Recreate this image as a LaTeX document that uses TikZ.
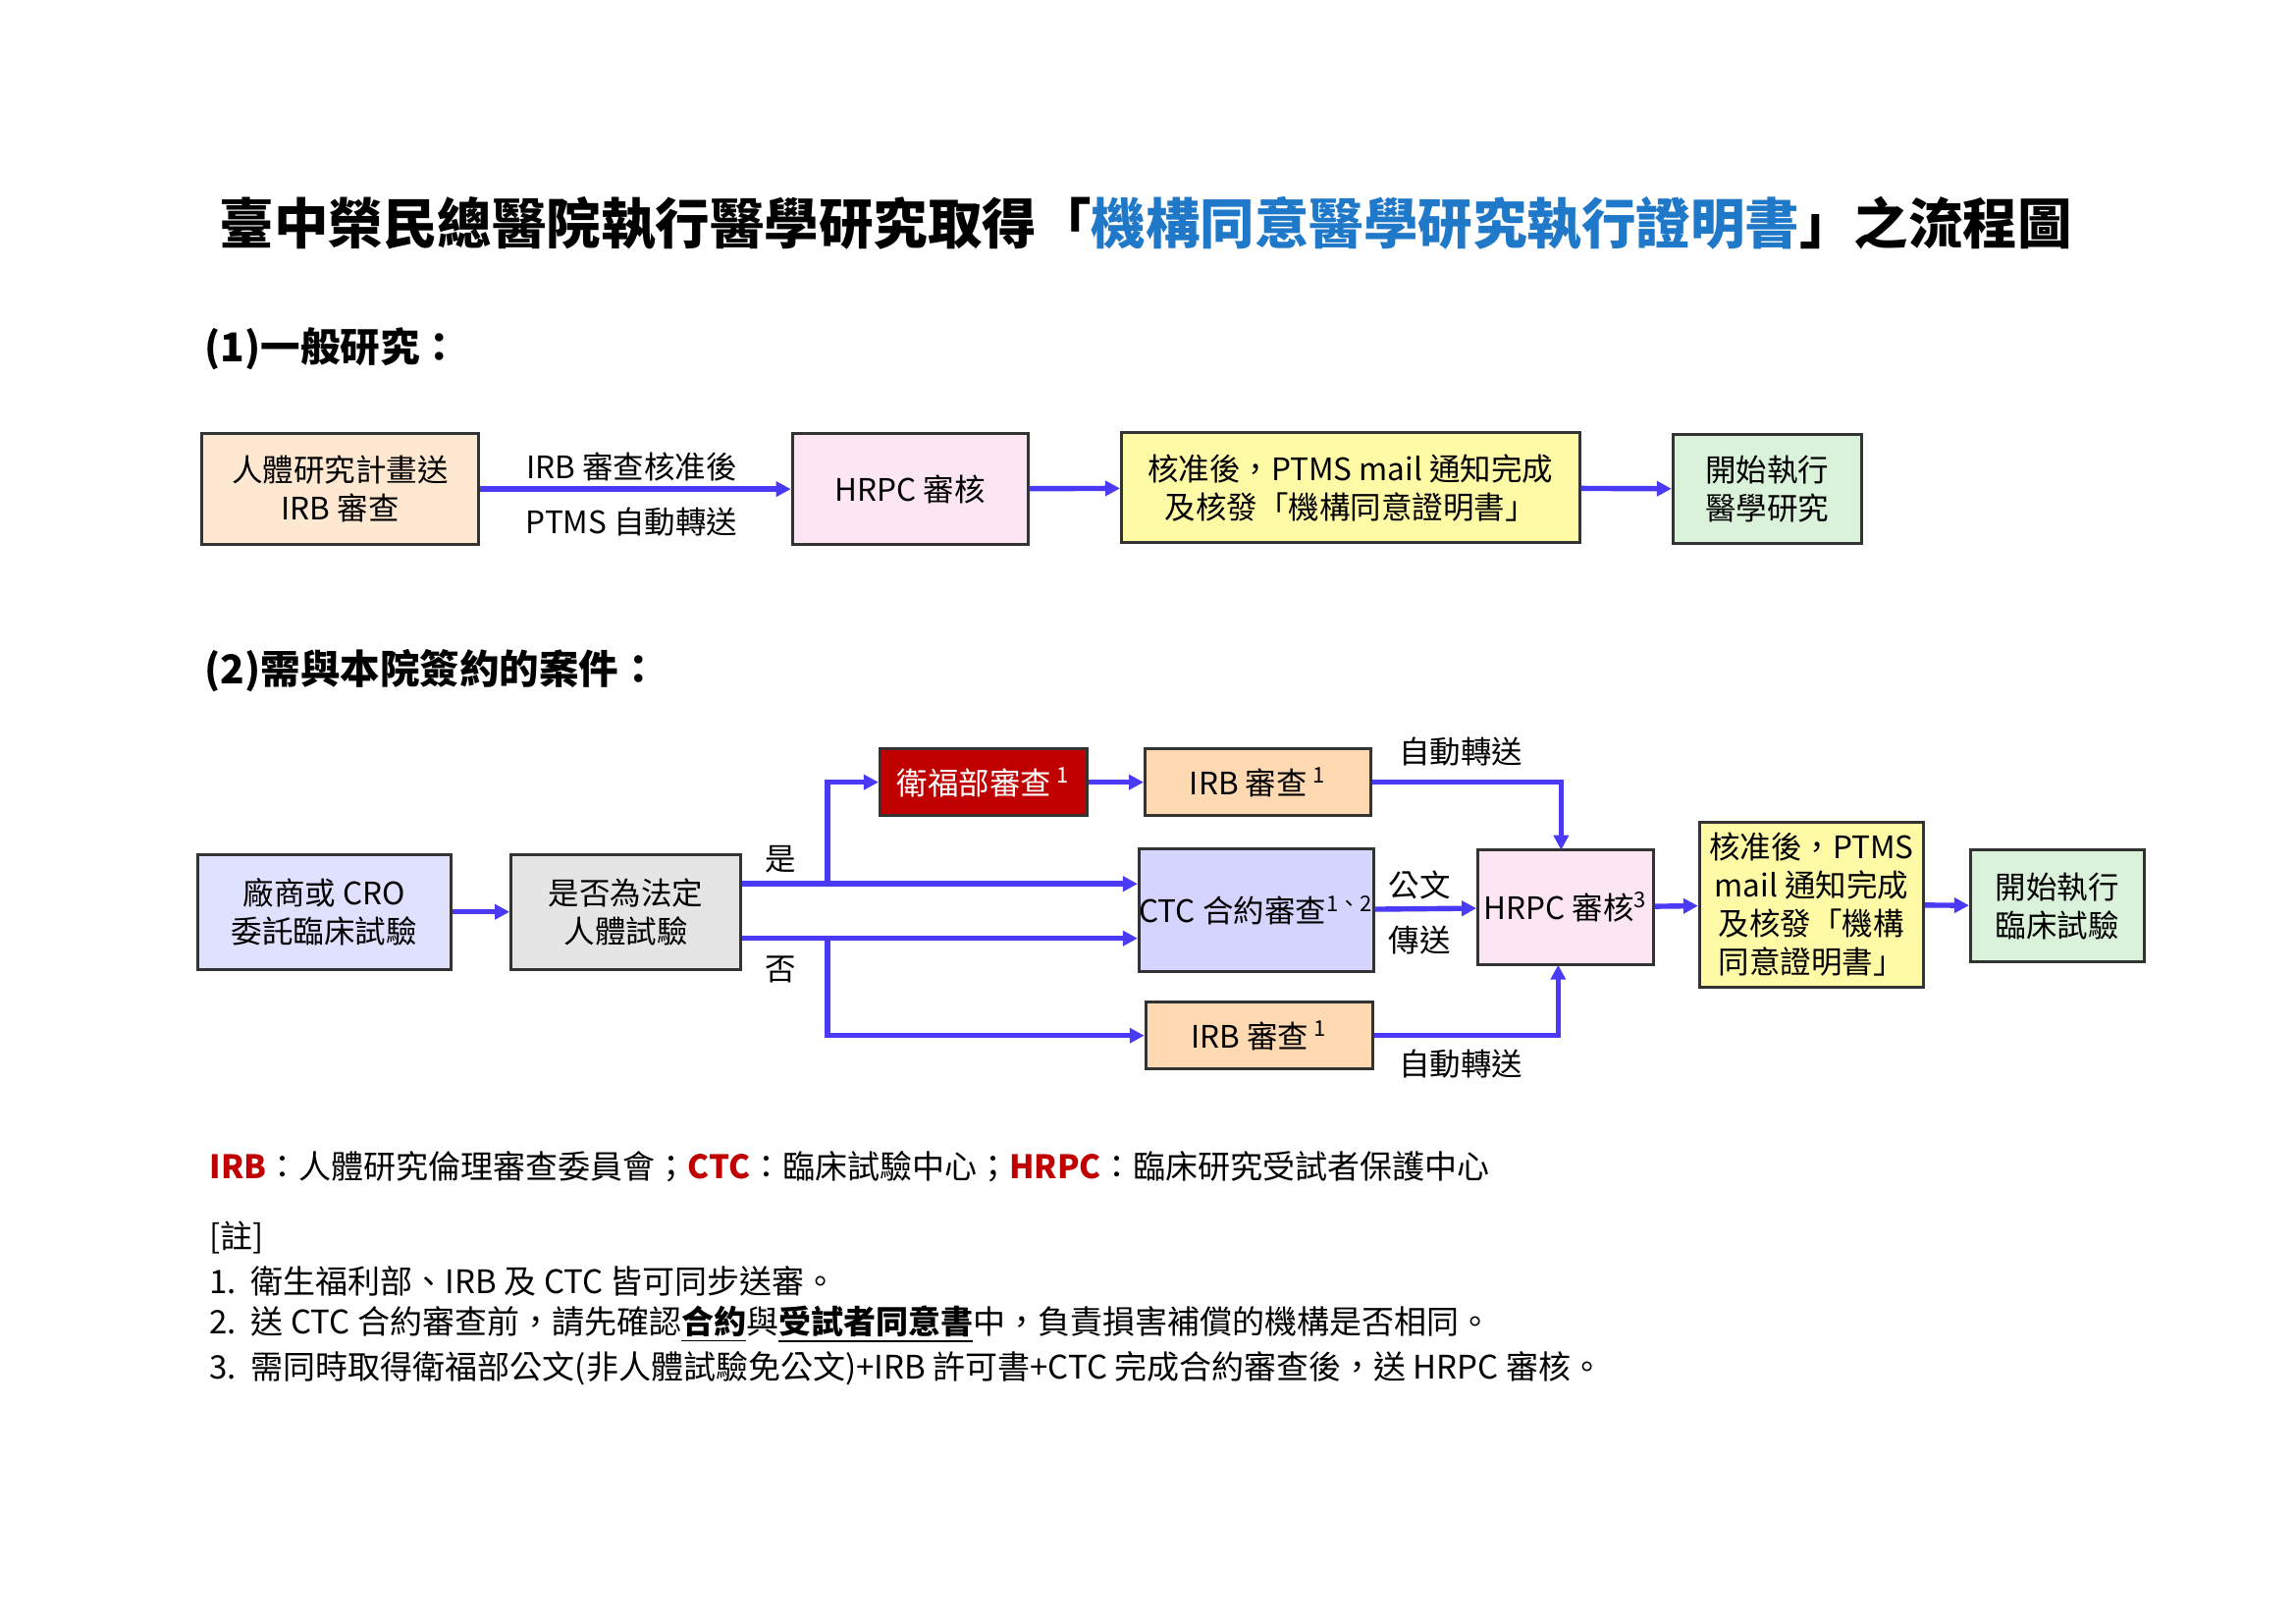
\documentclass[tikz,border=0pt]{standalone}
\usepackage{fontspec}
\setmainfont{Noto Sans CJK TC}
\usetikzlibrary{arrows.meta}
\definecolor{arr}{HTML}{4A3AF5}
\definecolor{tblue}{HTML}{1F78C8}
\definecolor{tred}{HTML}{C00000}
\tikzset{
 bx/.style={draw=black!80,line width=1pt,align=center,font=\fontsize{10.5}{13}\selectfont,inner sep=0pt},
 ar/.style={draw=arr,line width=1.8pt,-{Triangle[length=5pt,width=5pt]}},
 lb/.style={font=\fontsize{10.5}{12}\selectfont,inner sep=1pt},
 nt/.style={font=\fontsize{11}{13}\selectfont,anchor=west,inner sep=0pt},
}
\newcommand{\bxat}[6]{\node[bx,fill=#6,minimum width=#3*0.5pt,minimum height=#4*0.5pt] (#1) at (#2) {#5};}
\begin{document}
\begin{tikzpicture}[x=0.5pt,y=-0.5pt]
\useasboundingbox (0,0) rectangle (1559,1102);
\node[font=\fontsize{18.5}{20}\selectfont\bfseries] (title) at (778,152) {臺中榮民總醫院執行醫學研究取得「\textcolor{tblue}{機構同意醫學研究執行證明書}」之流程圖};
\node[font=\fontsize{13.5}{15}\selectfont\bfseries,anchor=west] (s1) at (132,237) {(1)一般研究：};
\node[font=\fontsize{13.5}{15}\selectfont\bfseries,anchor=west] (s2) at (132,455) {(2)需與本院簽約的案件：};
% section 1
\bxat{a}{231,332}{188}{75}{人體研究計畫送\\IRB 審查}{orange!18}
\bxat{b}{618,332}{160}{75}{HRPC 審核}{magenta!10}
\bxat{c}{917,331}{311}{75}{核准後，PTMS mail 通知完成\\及核發「機構同意證明書」}{yellow!35}
\bxat{d}{1200,332}{128}{74}{開始執行\\醫學研究}{green!10!white!95!black}
\draw[ar] (a) -- (b);
\node[lb] (l1) at (429,317) {IRB 審查核准後};
\node[lb] (l2) at (429,354) {PTMS 自動轉送};
\draw[ar] (b) -- (c);
\draw[ar] (c) -- (d);
% section 2
\bxat{e}{220,619}{172}{78}{廠商或 CRO\\委託臨床試驗}{blue!12}
\bxat{f}{425,619}{156}{78}{是否為法定\\人體試驗}{black!10}
\bxat{g}{668,531}{141}{45}{\textcolor{white}{衛福部審查\,\textsuperscript{1}}}{tred}
\bxat{h}{854,531}{153}{45}{IRB 審查\,\textsuperscript{1}}{orange!30}
\bxat{i}{853,618}{155}{83}{CTC 合約審查\textsuperscript{1、2}}{blue!17}
\bxat{j}{1063,616}{119}{78}{HRPC 審核\textsuperscript{3}}{magenta!10}
\bxat{k}{855,703}{154}{45}{IRB 審查\,\textsuperscript{1}}{orange!30}
\bxat{l}{1230,614}{152}{112}{核准後，PTMS\\mail 通知完成\\及核發「機構\\同意證明書」}{yellow!35}
\bxat{m}{1397,615}{118}{76}{開始執行\\臨床試驗}{green!10!white!95!black}
\draw[ar] (e) -- (f);
\coordinate (fy) at (f.east |- 0,600);
\coordinate (fn) at (f.east |- 0,637);
\draw[ar] (fy) -- (fy -| i.west);
\draw[ar] (fn) -- (fn -| i.west);
\coordinate (by) at (562,600);
\coordinate (bn) at (562,637);
\draw[ar] (by) |- (g.west);
\draw[ar] (bn) |- (k.west);
\draw[ar] (g) -- (h);
\draw[ar] (h.east) -| (1060,577);
\draw[ar] (k.east) -| (1058,655);
\draw[ar] (i) -- (j);
\draw[ar] (j) -- (l);
\draw[ar] (l) -- (m);
\node[lb] (yes) at (530,583) {是};
\node[lb] (no) at (530,658) {否};
\node[lb] (a1) at (992,510) {自動轉送};
\node[lb] (a2) at (992,722) {自動轉送};
\node[lb] (gw) at (964,601) {公文};
\node[lb] (cs) at (964,638) {傳送};
% legend
\node[nt] (leg) at (142,792) {\textcolor{tred}{\bfseries IRB}：人體研究倫理審查委員會；\textcolor{tred}{\bfseries CTC}：臨床試驗中心；\textcolor{tred}{\bfseries HRPC}：臨床研究受試者保護中心};
\node[nt] (n0) at (142,840) {[註]};
\node[nt] (n1) at (142,870) {1.\ \ 衛生福利部、IRB 及 CTC 皆可同步送審。};
\node[nt] (n2) at (142,899) {2.\ \ 送 CTC 合約審查前，請先確認\underline{\bfseries 合約}與\underline{\bfseries 受試者同意書}中，負責損害補償的機構是否相同。};
\node[nt] (n3) at (142,929) {3.\ \ 需同時取得衛福部公文(非人體試驗免公文)+IRB 許可書+CTC 完成合約審查後，送 HRPC 審核。};
\end{tikzpicture}
\end{document}
